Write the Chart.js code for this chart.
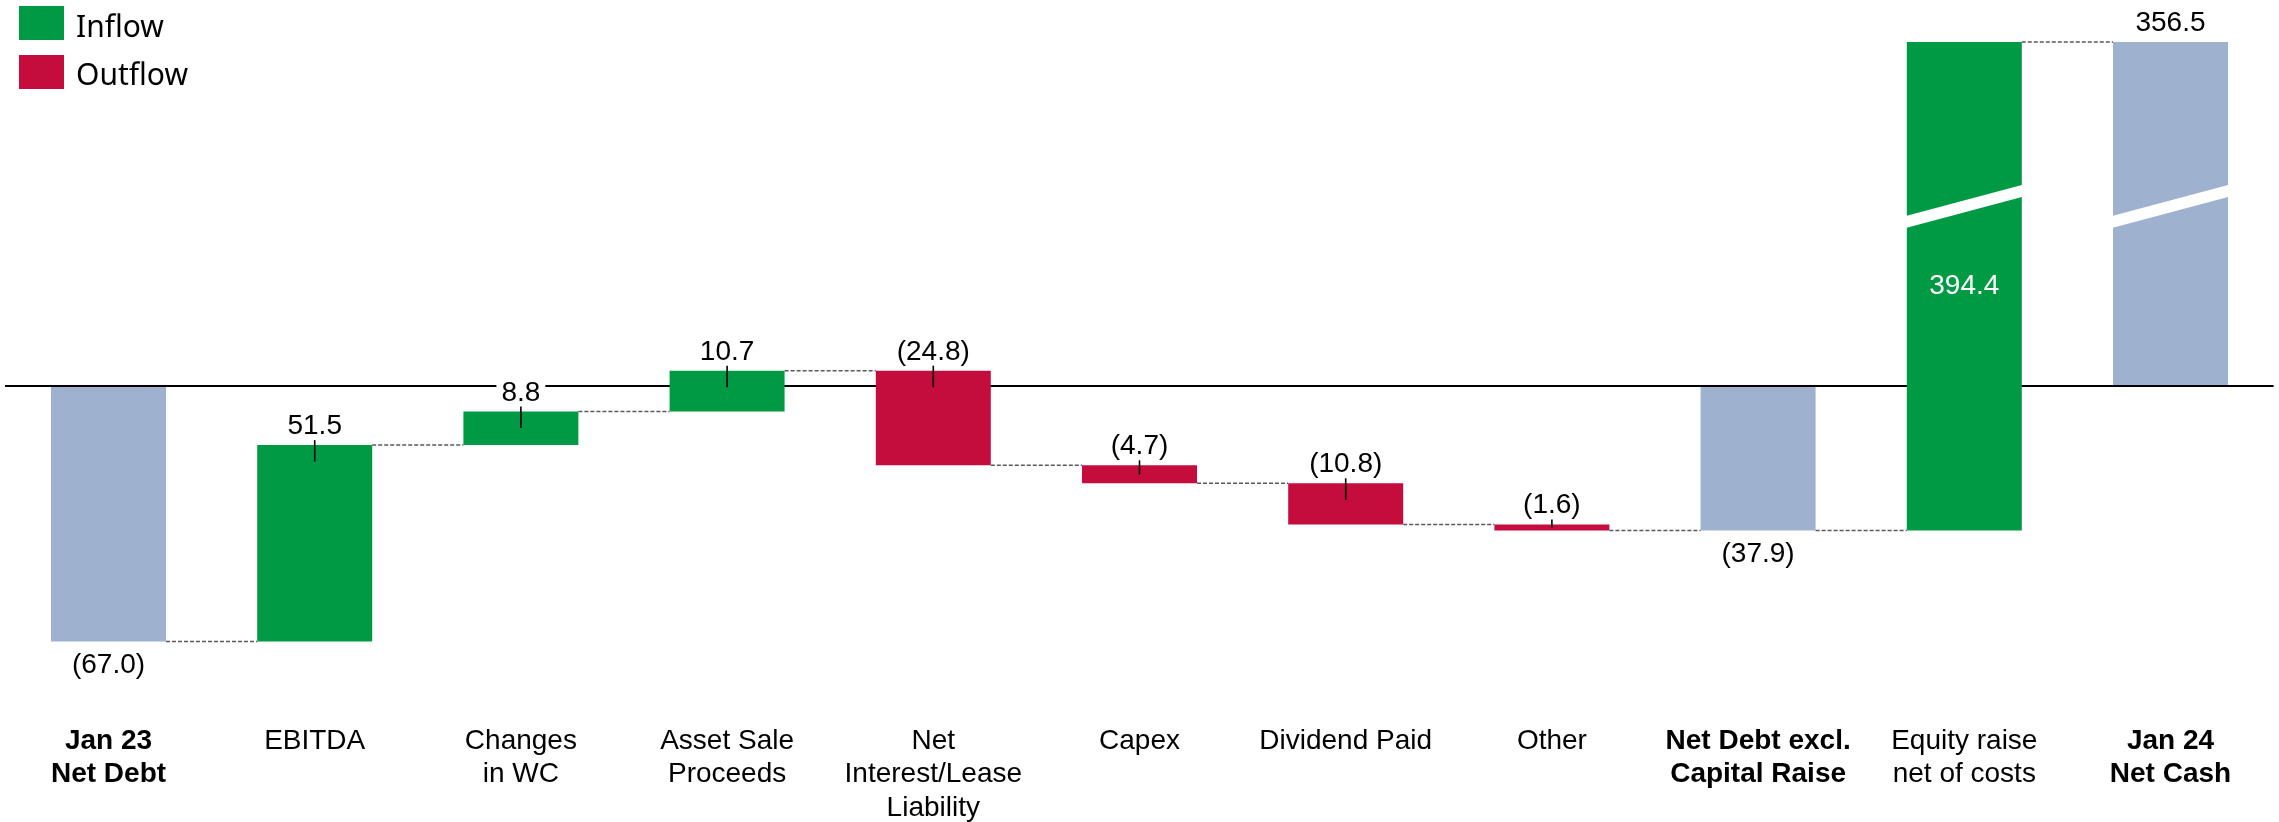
<!DOCTYPE html>
<html><head><meta charset="utf-8">
<script src="https://cdn.jsdelivr.net/npm/chart.js@4.4.1/dist/chart.umd.min.js"></script>
<style>html,body{margin:0;padding:0;background:#fff;overflow:hidden}#wrap{width:2279px;height:822px;position:relative}</style>
</head><body><div id="wrap"><canvas id="c" width="2279" height="822"></canvas></div>
<script>
// ---- data ----
const categories = [["Jan 23","Net Debt"],"EBITDA",["Changes","in WC"],["Asset Sale","Proceeds"],["Net","Interest/Lease","Liability"],"Capex","Dividend Paid","Other",["Net Debt excl.","Capital Raise"],["Equity raise","net of costs"],["Jan 24","Net Cash"]];
const values = [-67.0, 51.5, 8.8, 10.7, -24.8, -4.7, -10.8, -1.6, -37.9, 394.4, 356.5];
const barTypes = ["total","flow","flow","flow","flow","flow","flow","flow","total","flow","total"];
const legendLabels = ["Inflow","Outflow"];
const axisMin = -82.3, axisMax = 90.15;

// ---- styles ----
const GREEN = '#009A44', RED = '#C40D3C', BLUE = '#9EB1CF';
const FONT = '"Liberation Sans", Arial, Helvetica, sans-serif';
const BREAK_VALUE = 47.1;

let run = 0;
const ranges = values.map((v,i)=>{
  if (barTypes[i]==='total'){ run = v; return [0, v]; }
  const s = run; run = +(run + v).toFixed(1); return [s, run];
});
const colors = values.map((v,i)=> barTypes[i]==='total' ? BLUE : (v>=0 ? GREEN : RED));
const fmt = v => v<0 ? '(' + Math.abs(v).toFixed(1) + ')' : v.toFixed(1);

const decor = {
  id:'decor',
  afterDatasetsDraw(chart){
    const ctx = chart.ctx, ca = chart.chartArea, ys = chart.scales.y;
    const bars = chart.getDatasetMeta(0).data;
    const geo = bars.map(b=>{
      const t = Math.max(Math.min(b.y,b.base), ca.top), bt = Math.min(Math.max(b.y,b.base), ca.bottom);
      return {x:b.x, w:b.width, top:t, bottom:bt};
    });
    ctx.save();
    // connectors
    ctx.strokeStyle = '#5a5a5a'; ctx.lineWidth = 1.5; ctx.setLineDash([4,2]);
    for (let i=0;i<geo.length-1;i++){
      let y = ys.getPixelForValue(ranges[i][1]);
      y = Math.max(ca.top, Math.min(ca.bottom, y));
      ctx.beginPath();
      ctx.moveTo(geo[i].x + geo[i].w/2, y);
      ctx.lineTo(geo[i+1].x - geo[i+1].w/2, y);
      ctx.stroke();
    }
    ctx.setLineDash([]);
    // breaks
    geo.forEach((g,i)=>{
      if (Math.max(ranges[i][0],ranges[i][1]) > axisMax){
        const yc = ys.getPixelForValue(BREAK_VALUE);
        const half = g.w/2 + 1, slope = 0.267, th = 6;
        ctx.fillStyle = '#fff';
        ctx.beginPath();
        ctx.moveTo(g.x-half, yc + slope*half - th);
        ctx.lineTo(g.x+half, yc - slope*half - th);
        ctx.lineTo(g.x+half, yc - slope*half + th);
        ctx.lineTo(g.x-half, yc + slope*half + th);
        ctx.closePath(); ctx.fill();
      }
    });
    // labels
    ctx.font = '28px ' + FONT;
    ctx.textAlign = 'center';
    geo.forEach((g,i)=>{
      const txt = fmt(values[i]);
      const clipped = Math.max(ranges[i][0],ranges[i][1]) > axisMax;
      if (barTypes[i]==='total' && values[i] < 0){
        ctx.fillStyle = '#000'; ctx.textBaseline = 'alphabetic';
        ctx.fillText(txt, g.x, g.bottom + 31.8);
      } else if (barTypes[i]==='flow' && clipped){
        ctx.fillStyle = '#fff'; ctx.textBaseline = 'middle';
        ctx.fillText(txt, g.x, (g.top + g.bottom)/2);
      } else {
        const by = g.top - 11;
        const tw = ctx.measureText(txt).width;
        ctx.fillStyle = '#fff';
        ctx.fillRect(g.x - tw/2 - 5, by - 23, tw + 10, 26);
        ctx.fillStyle = '#000'; ctx.textBaseline = 'alphabetic';
        ctx.fillText(txt, g.x, by);
        if (barTypes[i]==='flow'){
          ctx.strokeStyle = '#000'; ctx.lineWidth = 1.6;
          ctx.beginPath();
          ctx.moveTo(g.x, g.top - 5);
          ctx.lineTo(g.x, g.top + Math.min(16.5, (g.bottom-g.top)/2));
          ctx.stroke();
        }
      }
    });
    ctx.restore();
  },
  afterDraw(chart){
    const ctx = chart.ctx;
    ctx.save();
    const items = [[GREEN, 6, 36.7],[RED, 55, 85]];
    ctx.font = '30px "Noto Sans", "Open Sans", sans-serif';
    ctx.textAlign = 'left'; ctx.textBaseline = 'alphabetic';
    items.forEach((it,k)=>{
      ctx.fillStyle = it[0]; ctx.fillRect(19, it[1], 45, 34);
      ctx.fillStyle = '#000'; ctx.fillText(legendLabels[k], 76, it[2]);
    });
    ctx.restore();
  }
};

new Chart(document.getElementById('c'), {
  type:'bar',
  data:{ labels: categories, datasets:[{ label:'Net debt bridge', data: ranges, backgroundColor: colors, borderWidth:0, barPercentage:0.5577, categoryPercentage:1 }]},
  options:{
    responsive:false, animation:false, devicePixelRatio:1,
    layout:{ padding:{ top:42, left:5.4, right:5.4, bottom:0 } },
    plugins:{ legend:{display:false}, tooltip:{enabled:false} },
    scales:{
      x:{
        grid:{display:false}, border:{display:false},
        ticks:{ color:'#000', padding:16.5, maxRotation:0, minRotation:0, autoSkip:false,
          font:(c)=>({ family:FONT, size:28, lineHeight:1.19, weight: barTypes[c.index]==='total' ? 'bold' : 'normal' }) },
        afterFit:(s)=>{ s.height = 122; }
      },
      y:{
        min:axisMin, max:axisMax,
        ticks:{ display:false, stepSize:10 },
        grid:{ color:(c)=> (c.tick && c.tick.value===0) ? '#000' : 'rgba(0,0,0,0)', lineWidth:2, drawTicks:false },
        border:{ display:false },
        afterFit:(s)=>{ s.width = 0; }
      }
    }
  },
  plugins:[decor]
});
</script></body></html>
